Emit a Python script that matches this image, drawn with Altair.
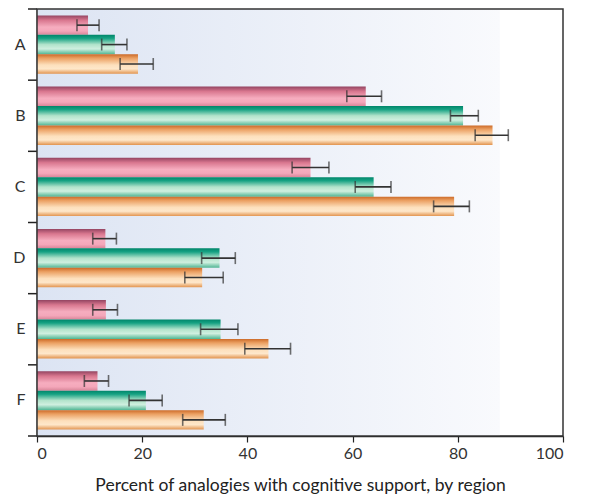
import altair as alt
import pandas as pd

regions = ["A", "B", "C", "D", "E", "F"]
series = ["S1", "S2", "S3"]

s1_val = [9.7, 62.5, 52.0, 13.0, 13.1, 11.5]
s1_lo = [7.6, 58.9, 48.5, 10.6, 10.6, 9.0]
s1_hi = [11.8, 65.5, 55.5, 15.1, 15.3, 13.6]

s2_val = [14.8, 81.0, 64.0, 34.7, 34.9, 20.7]
s2_lo = [12.3, 78.6, 60.5, 31.3, 31.1, 17.5]
s2_hi = [17.1, 83.9, 67.3, 37.7, 38.2, 23.8]

s3_val = [19.2, 86.6, 79.3, 31.4, 44.0, 31.7]
s3_lo = [15.8, 83.3, 75.4, 28.1, 39.5, 27.7]
s3_hi = [22.1, 89.6, 82.2, 35.4, 48.2, 35.8]

x_ticks = [0, 20, 40, 60, 80, 100]
bg_extent = [0, 88]

rows = []
for s, vals, los, his in [("S1", s1_val, s1_lo, s1_hi),
                          ("S2", s2_val, s2_lo, s2_hi),
                          ("S3", s3_val, s3_lo, s3_hi)]:
    for r, v, lo, hi in zip(regions, vals, los, his):
        rows.append({"region": r, "series": s, "value": v, "lo": lo, "hi": hi})
df = pd.DataFrame(rows)
cat_df = pd.DataFrame({"region": regions})
bg_df = pd.DataFrame({"x0": [bg_extent[0]], "x1": [bg_extent[1]]})

W, H = 526, 427
FONT = "Lato"

xscale = alt.Scale(domain=[0, 100], nice=False)
yscale = alt.Scale(domain=regions, paddingInner=0, paddingOuter=0)
yoff = alt.YOffset("series:N", scale=alt.Scale(domain=series, paddingInner=0, paddingOuter=0.33))

def grad(stops):
    return alt.LinearGradient(
        gradient="linear", x1=0, x2=0, y1=0, y2=1,
        stops=[alt.GradientStop(offset=o, color=c) for o, c in stops],
    )

grads = {
    "S1": grad([(0, "#944461"), (0.25, "#d9778f"), (0.6, "#f6adbf"), (0.8, "#f4a7ba"), (1, "#d88599")]),
    "S2": grad([(0, "#00866a"), (0.18, "#16a283"), (0.5, "#b2e3cb"), (0.72, "#cfefdf"), (1, "#4fb593")]),
    "S3": grad([(0, "#cc6a28"), (0.2, "#eba062"), (0.55, "#fde0bd"), (0.75, "#fee7ca"), (1, "#e2944f")]),
}

bg = alt.Chart(bg_df).mark_rect(
    color=alt.LinearGradient(
        gradient="linear", x1=0, x2=1, y1=0, y2=0,
        stops=[alt.GradientStop(offset=0, color="#dce4f3"),
               alt.GradientStop(offset=1, color="#f9fafd")],
    )
).encode(
    x=alt.X("x0:Q", scale=xscale,
            axis=alt.Axis(values=x_ticks, title="Percent of analogies with cognitive support, by region",
                          grid=False, domainColor="#222", domainWidth=1.5, tickColor="#222",
                          tickSize=6, tickWidth=1.2, labelFontSize=16, labelColor="#333",
                          labelFont=FONT, labelPadding=3, titleFont=FONT, titleFontSize=17.5,
                          titleFontWeight="normal", titleColor="#222", titlePadding=15)),
    x2="x1:Q",
    y=alt.value(0),
    y2=alt.value(H),
)

layers = [bg]
for s in series:
    layers.append(
        alt.Chart(df).transform_filter(alt.datum.series == s).mark_bar(
            color=grads[s], cornerRadius=0
        ).encode(
            x=alt.X("value:Q", scale=xscale),
            y=alt.Y("region:N", scale=yscale,
                    axis=alt.Axis(title=None, ticks=False, domainColor="#222", domainWidth=1.5,
                                  labelFontSize=16, labelColor="#333", labelFont=FONT,
                                  labelPadding=12, labelAngle=0)),
            yOffset=yoff,
        )
    )

err_line = alt.Chart(df).mark_rule(color="#333", strokeWidth=1.6).encode(
    x=alt.X("lo:Q", scale=xscale), x2="hi:Q",
    y=alt.Y("region:N", scale=yscale), yOffset=yoff,
)
err_lo = alt.Chart(df).mark_tick(color="#333", thickness=1.6, size=12, orient="vertical").encode(
    x=alt.X("lo:Q", scale=xscale), y=alt.Y("region:N", scale=yscale), yOffset=yoff,
)
err_hi = alt.Chart(df).mark_tick(color="#333", thickness=1.6, size=12, orient="vertical").encode(
    x=alt.X("hi:Q", scale=xscale), y=alt.Y("region:N", scale=yscale), yOffset=yoff,
)

cat_ticks = alt.Chart(cat_df).mark_rule(color="#222", strokeWidth=1.5).encode(
    y=alt.Y("region:N", scale=yscale, bandPosition=0),
    x=alt.value(-9), x2=alt.value(0),
)
bottom_tick = alt.Chart(cat_df.head(1)).mark_rule(color="#222", strokeWidth=1.5).encode(
    y=alt.value(H), x=alt.value(-9), x2=alt.value(0),
)
frame = alt.Chart(cat_df.head(1)).mark_rect(fillOpacity=0, stroke="#333", strokeWidth=1.5).encode(
    x=alt.value(0), x2=alt.value(W), y=alt.value(0), y2=alt.value(H),
)

chart = alt.layer(*layers, err_line, err_lo, err_hi, cat_ticks, bottom_tick, frame).properties(
    width=W, height=H,
    padding={"left": 4, "top": 0, "right": 5, "bottom": 5},
    background="white",
).configure_view(stroke=None)

chart.save("out.html", embed_options={"renderer": "svg", "actions": False})
